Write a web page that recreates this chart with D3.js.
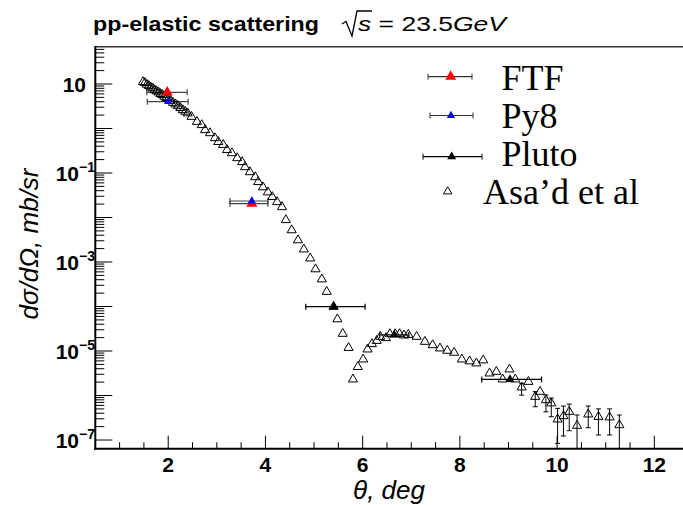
<!DOCTYPE html>
<meta charset="utf-8">
<style>
body { margin: 0; background: #fff; }
svg { display: block; }
.tick-lab { font: bold 21px "Liberation Sans", Arial, sans-serif; fill: #000; }
.axis-title { font: italic 26px "Liberation Sans", Arial, sans-serif; fill: #000; }
.leg { font: 36px "Liberation Serif", "Times New Roman", serif; fill: #000; }
</style>
<body>
<script src="https://cdn.jsdelivr.net/npm/d3@7"></script>
<script>

var asadTheta = [1.48,1.52,1.56,1.60,1.64,1.68,1.72,1.76,1.80,1.84,1.88,1.92,1.96,2.00,2.05,2.10,2.15,2.20,2.25,2.30,2.35,2.40,
  2.48,2.59,2.69,2.76,2.86,2.96,3.03,3.13,3.21,3.31,3.42,3.52,3.58,3.68,3.79,3.85,3.95,4.05,4.14,4.24,4.34,
  4.42,4.54,4.67,4.79,4.92,5.03,5.16,5.26,5.40,5.48,5.59,5.71,5.80,5.90,6.01,6.10,6.19,6.29,6.36,6.48,6.56,
  6.67,6.76,6.85,6.94,7.11,7.28,7.44,7.59,7.74,7.88,8.04,8.20,8.34,8.48,8.61,8.75,8.88,9.02,9.14,9.27,9.41,
  9.55,9.65,9.77,9.88,10.01,10.13,10.25,10.41,10.64,10.85,11.08,11.28];
var asadVal = [11.1,10.6,9.7,9.1,8.4,8.0,7.3,6.9,6.5,6.0,5.7,5.2,4.9,4.6,4.2,3.8,3.5,3.2,2.9,2.6,2.4,2.2,
  1.84,1.42,1.20,0.925,0.79,0.61,0.50,0.43,0.33,0.28,0.217,0.177,0.136,0.105,0.081,0.063,0.048,0.037,0.029,0.0223,0.0172,
  0.0088,0.0052,0.0031,0.00193,0.00121,6.9e-4,4.1e-4,2.15e-4,9.9e-5,5.2e-5,2.45e-5,1.18e-5,2.31e-6,4.4e-6,6.5e-6,1.09e-5,1.44e-5,1.70e-5,2.1e-5,1.96e-5,2.41e-5,
  2.41e-5,2.41e-5,2.25e-5,2.32e-5,2.1e-5,1.62e-5,1.36e-5,1.15e-5,1.02e-5,9.2e-6,6.5e-6,5.9e-6,5.3e-6,6.2e-6,3.15e-6,3.43e-6,2.31e-6,3.88e-6,2.31e-6,1.53e-6,2.04e-6,
  9.4e-7,1.22e-6,7.9e-7,6.7e-7,2.92e-7,3.46e-7,4.32e-7,2.1e-7,3.78e-7,3.34e-7,3.24e-7,2.17e-7];

var errTheta = [9.27,9.55,9.77,9.88,10.01,10.13,10.25,10.41,10.64,10.85,11.08,11.28];
var errLo = [1.02e-6,5.6e-7,4.3e-7,3.34e-7,8.4e-8,1.23e-7,1.62e-7,5e-8,1.89e-7,1.3e-7,1.3e-7,5e-8];
var errHi = [1.88e-6,1.22e-6,1.03e-6,8.8e-7,5.15e-7,5.8e-7,6.4e-7,3.65e-7,5.8e-7,5.0e-7,5.0e-7,3.65e-7];

var ftfTheta = [1.98, 3.72], ftfVal = [6.5, 0.0205], ftfLo = [1.56, 3.27], ftfHi = [2.39, 4.05];
var py8Theta = [2.0, 3.72], py8Val = [4.0, 0.0235], py8Lo = [1.57, 3.27], py8Hi = [2.41, 4.05];
var plutoTheta = [5.41, 6.65, 9.03], plutoVal = [9.9e-5, 2.3e-5, 2.3e-6], plutoLo = [4.83, 6.35, 8.45], plutoHi = [6.05, 6.95, 9.68];

var xTicks = [2, 4, 6, 8, 10, 12];
var yLabelExp = [1, -1, -3, -5, -7];
var legendNames = ["FTF", "Py8", "Pluto", "Asa\u2019d et al"];

var W = 683, H = 505;
var x = d3.scaleLinear().domain([0.5, 12.6]).range([95.3, 683.5]);
var y = d3.scaleLog().domain([Math.pow(10, -7.195), Math.pow(10, 1.838)]).range([448.7, 46.7]);

var svg = d3.select("body").append("svg").attr("width", W).attr("height", H);
svg.append("rect").attr("width", W).attr("height", H).attr("fill", "#fff");

svg.append("clipPath").attr("id", "clip").append("rect")
  .attr("x", 95).attr("y", 46).attr("width", 590).attr("height", 403);

// frame top
svg.append("line").attr("x1", 95).attr("x2", 683).attr("y1", 46.7).attr("y2", 46.7)
  .attr("stroke", "#333").attr("stroke-width", 1.5);

// x ticks
var xMinor = d3.range(1, 25).map(function(i) { return 0.5 * i; });
svg.append("g").selectAll("line").data(xMinor).enter().append("line")
  .attr("x1", function(d) { return x(d); }).attr("x2", function(d) { return x(d); })
  .attr("y1", 448.7)
  .attr("y2", function(d) { return d % 2 == 0 ? 448.7 - 13 : 448.7 - 6.5; })
  .attr("stroke", "#000").attr("stroke-width", 1);
svg.append("g").selectAll("text").data(xTicks).enter().append("text")
  .attr("class", "tick-lab")
  .attr("x", function(d) { return x(d); }).attr("y", 472)
  .attr("text-anchor", "middle")
  .text(function(d) { return d; });

// y ticks
var yMajor = d3.range(-7, 2);
var yMinor = [];
yMajor.forEach(function(e) {
  for (var k = 2; k <= 9; k++) {
    var v = k * Math.pow(10, e);
    if (v < y.domain()[1]) yMinor.push(v);
  }
});
svg.append("g").selectAll("line").data(yMinor).enter().append("line")
  .attr("x1", 95.3).attr("x2", 95.3 + 9)
  .attr("y1", function(d) { return y(d); }).attr("y2", function(d) { return y(d); })
  .attr("stroke", "#000").attr("stroke-width", 1);
svg.append("g").selectAll("line").data(yMajor).enter().append("line")
  .attr("x1", 95.3).attr("x2", 95.3 + 17)
  .attr("y1", function(d) { return y(Math.pow(10, d)); }).attr("y2", function(d) { return y(Math.pow(10, d)); })
  .attr("stroke", "#000").attr("stroke-width", 1);

var yl = svg.append("g").selectAll("text").data(yLabelExp).enter().append("text")
  .attr("class", "tick-lab")
  .attr("text-anchor", "end")
  .attr("y", function(d) { return y(Math.pow(10, d)) + 8; })
  .attr("x", function(d) { return d == 1 ? 86 : 95; });
yl.append("tspan").text("10");
yl.filter(function(d) { return d != 1; }).append("tspan")
  .attr("dy", -9).attr("font-size", "14px")
  .text(function(d) { return "\u2212" + Math.abs(d); });

// axes lines
svg.append("line").attr("x1", 95.3).attr("x2", 95.3).attr("y1", 46).attr("y2", 449.7)
  .attr("stroke", "#000").attr("stroke-width", 2);
svg.append("line").attr("x1", 94.3).attr("x2", 683).attr("y1", 448.7).attr("y2", 448.7)
  .attr("stroke", "#000").attr("stroke-width", 2);

// axis titles
svg.append("text").attr("class", "axis-title")
  .attr("transform", "translate(38,244) rotate(-90)")
  .attr("text-anchor", "middle")
  .text("d\u03c3/d\u03a9, mb/sr");
svg.append("text").attr("class", "axis-title")
  .attr("x", 425).attr("y", 499).attr("text-anchor", "end")
  .text("\u03b8, deg");

// title
svg.append("text").attr("x", 93).attr("y", 31)
  .style("font", "bold 21px 'Liberation Sans', Arial, sans-serif")
  .attr("textLength", 226).attr("lengthAdjust", "spacingAndGlyphs")
  .text("pp-elastic scattering");
svg.append("path").attr("d", "M342,24 L346,21.5 L352,36 L357,11 L372,11")
  .attr("fill", "none").attr("stroke", "#000").attr("stroke-width", 1.3);
var sub = svg.append("text").attr("x", 358).attr("y", 31)
  .style("font", "21px 'Liberation Sans', Arial, sans-serif")
  .attr("textLength", 148).attr("lengthAdjust", "spacingAndGlyphs");
sub.append("tspan").attr("font-style", "italic").text("s");
sub.append("tspan").text(" = 23.5");
sub.append("tspan").attr("font-style", "italic").text("GeV");

var plot = svg.append("g").attr("clip-path", "url(#clip)");
var tri = function(s) { return d3.symbol().type(d3.symbolTriangle).size(s)(); };

// Asa'd error bars
var eb = plot.append("g").attr("stroke", "#000").attr("stroke-width", 1);
errTheta.forEach(function(t, i) {
  var cx = x(t);
  eb.append("line").attr("x1", cx).attr("x2", cx).attr("y1", y(errLo[i])).attr("y2", y(errHi[i]));
  eb.append("line").attr("x1", cx - 2.5).attr("x2", cx + 2.5).attr("y1", y(errLo[i])).attr("y2", y(errLo[i]));
  eb.append("line").attr("x1", cx - 2.5).attr("x2", cx + 2.5).attr("y1", y(errHi[i])).attr("y2", y(errHi[i]));
});

function hbars(th, val, lo, hi, col) {
  var g = plot.append("g").attr("stroke", col).attr("stroke-width", 1.2);
  th.forEach(function(t, i) {
    var cy = y(val[i]);
    g.append("line").attr("x1", x(lo[i])).attr("x2", x(hi[i])).attr("y1", cy).attr("y2", cy);
    g.append("line").attr("x1", x(lo[i])).attr("x2", x(lo[i])).attr("y1", cy - 3).attr("y2", cy + 3);
    g.append("line").attr("x1", x(hi[i])).attr("x2", x(hi[i])).attr("y1", cy - 3).attr("y2", cy + 3);
  });
}
hbars(ftfTheta, ftfVal, ftfLo, ftfHi, "#444");
hbars(py8Theta, py8Val, py8Lo, py8Hi, "#444");
hbars(plutoTheta, plutoVal, plutoLo, plutoHi, "#000");

// open triangles
plot.append("g").selectAll("path").data(asadTheta).enter().append("path")
  .attr("d", tri(36))
  .attr("transform", function(d, i) { return "translate(" + x(d) + "," + y(asadVal[i]) + ")"; })
  .attr("fill", "none").attr("stroke", "#000").attr("stroke-width", 1);

function markers(th, val, s, col) {
  plot.append("g").selectAll("path").data(th).enter().append("path")
    .attr("d", tri(s))
    .attr("transform", function(d, i) { return "translate(" + x(d) + "," + y(val[i]) + ")"; })
    .attr("fill", col);
}
markers(ftfTheta, ftfVal, 52, "#ff0000");
markers(py8Theta, py8Val, 30, "#0000ff");
markers(plutoTheta, plutoVal, 36, "#000");

// legend
var legY = [76.7, 115.5, 156.7, 191.5];
var legBase = [89.5, 128, 166, 204];
var legTx = [501.5, 501.5, 501.5, 483];
var legBarLo = [428, 430, 423, null], legBarHi = [472, 473, 482, null];
var legCol = ["#ff0000", "#0000ff", "#000", "none"];
var legSize = [52, 30, 36, 30];
var legMx = [450.7, 451, 451.7, 447.7];
var lg = svg.append("g");
legendNames.forEach(function(n, i) {
  if (legBarLo[i] != null) {
    var c = i == 2 ? "#000" : "#333";
    lg.append("line").attr("x1", legBarLo[i]).attr("x2", legBarHi[i]).attr("y1", legY[i]).attr("y2", legY[i]).attr("stroke", c).attr("stroke-width", 1.2);
    lg.append("line").attr("x1", legBarLo[i]).attr("x2", legBarLo[i]).attr("y1", legY[i] - 3).attr("y2", legY[i] + 3).attr("stroke", c);
    lg.append("line").attr("x1", legBarHi[i]).attr("x2", legBarHi[i]).attr("y1", legY[i] - 3).attr("y2", legY[i] + 3).attr("stroke", c);
  }
  lg.append("path").attr("d", tri(legSize[i]))
    .attr("transform", "translate(" + legMx[i] + "," + legY[i] + ")")
    .attr("fill", legCol[i] == "none" ? "none" : legCol[i])
    .attr("stroke", legCol[i] == "none" ? "#000" : "none");
  lg.append("text").attr("class", "leg").attr("x", legTx[i]).attr("y", legBase[i]).text(n);
});

</script>
</body>
